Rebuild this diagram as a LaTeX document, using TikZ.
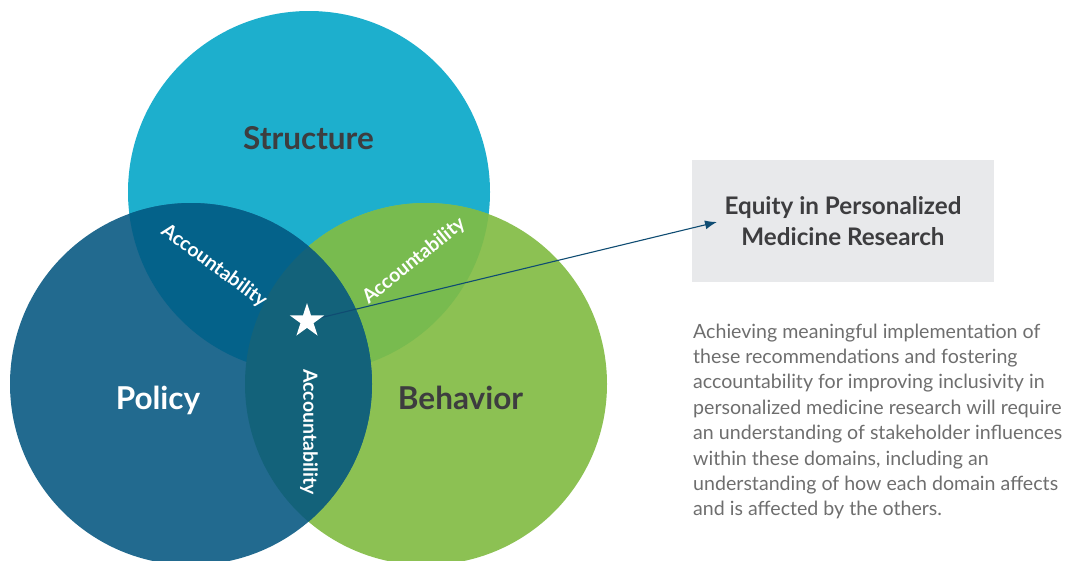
\documentclass[tikz,border=0pt]{standalone}
\usepackage{fontspec}
\setmainfont{Lato}
\usetikzlibrary{shapes.geometric,arrows.meta}

% domain colours and their overlaps
\definecolor{structcol}{HTML}{1DAFCD}
\definecolor{polcol}{HTML}{226A8F}
\definecolor{behcol}{HTML}{8CC153}
\definecolor{spcol}{HTML}{04628A}
\definecolor{sbcol}{HTML}{78BB4F}
\definecolor{pbcol}{HTML}{13627A}
\definecolor{darktext}{HTML}{3D3D3F}
\definecolor{bodytext}{HTML}{6E6E6E}
\definecolor{boxgray}{HTML}{E8E9EB}
\definecolor{arrowcol}{HTML}{0F4C72}

\tikzset{
  venn/.style={circle, minimum size=362pt, inner sep=0pt},
  domainlabel/.style={font=\fontsize{31.5}{34}\selectfont\bfseries, inner sep=0pt, anchor=base},
  acc/.style={font=\fontsize{19.5}{21}\selectfont\bfseries, text=white, inner sep=0pt},
  goalbox/.style={fill=boxgray, minimum width=302pt, minimum height=122pt, align=center,
    text=darktext, font=\fontsize{24.2}{30.5}\selectfont\bfseries},
  body/.style={text=bodytext, align=left, inner sep=0pt, anchor=north west,
    font=\fontsize{19.6}{25.4}\selectfont},
  link/.style={arrowcol, line width=1.1pt, -{Latex[length=12pt,width=9pt]}}
}

\begin{document}
\begin{tikzpicture}[x=1pt,y=-1pt]
\useasboundingbox (0,0) rectangle (1065,560);

% the three domains
\node[venn, fill=structcol] (S) at (309,192) {};
\node[venn, fill=behcol]    (B) at (426,384) {};
\node[venn, fill=polcol]    (P) at (191,384) {};

% overlaps
\begin{scope}
  \clip (S.center) circle[radius=181pt];
  \fill[sbcol] (B.center) circle[radius=181pt];
  \fill[spcol] (P.center) circle[radius=181pt];
\end{scope}
\begin{scope}
  \clip (P.center) circle[radius=181pt];
  \fill[pbcol] (B.center) circle[radius=181pt];
\end{scope}

% domain names
\node[domainlabel, text=darktext] (tS) at (308.5,149) {Structure};
\node[domainlabel, text=white]    (tP) at (158,409)   {Policy};
\node[domainlabel, text=darktext] (tB) at (460.5,409) {Behavior};

% accountability along each pairwise overlap
\node[acc, rotate=-36] (aSP) at (214,266) {Accountability};
\node[acc, rotate=39]  (aSB) at (414,261) {Accountability};
\node[acc, rotate=-90] (aPB) at (309,432) {Accountability};

% goal box and description
\node[goalbox] (goal) at (843,221) {Equity in Personalized\\Medicine Research};

\node[body] (desc) at (693,323.5) {Achieving meaningful implementation of\\
these recommendations and fostering\\
accountability for improving inclusivity in\\
personalized medicine research will require\\
an understanding of stakeholder influences\\
within these domains, including an\\
understanding of how each domain affects\\
and is affected by the others.};

% star at the centre, linked to the goal
\coordinate (starc) at (307,321);
\coordinate (tip) at (717,222);
\draw[link] (starc) -- (tip);
\node[star, star points=5, star point ratio=2.618, fill=white, minimum size=36pt, inner sep=0pt] (star) at (starc) {};
\end{tikzpicture}
\end{document}
